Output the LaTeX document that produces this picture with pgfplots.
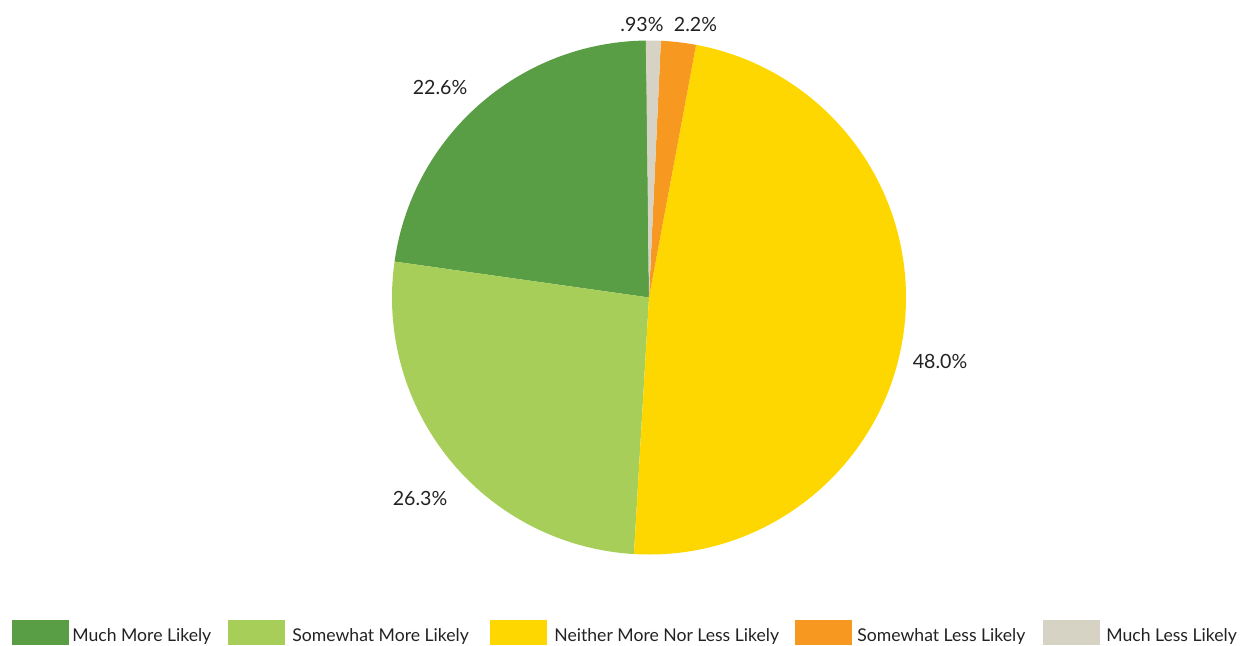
\documentclass[border=0pt]{standalone}
\usepackage{fontspec}
\setmainfont{Lato}
\usepackage{pgfplots}
\usepackage{pgfplotstable}
\pgfplotsset{compat=1.18}
\definecolor{cA}{RGB}{89,158,68}
\definecolor{cB}{RGB}{168,206,90}
\definecolor{cC}{RGB}{255,215,0}
\definecolor{cD}{RGB}{247,153,33}
\definecolor{cE}{RGB}{214,211,196}
\definecolor{txt}{RGB}{34,34,34}
\pgfplotstableread{
name value col
MuchMore 22.6 cA
SomewhatMore 26.3 cB
Neither 48.0 cC
SomewhatLess 2.2 cD
MuchLess 0.93 cE
}\piedata
\begin{document}
\begin{tikzpicture}
\begin{axis}[scale only axis, width=620.5pt, height=322.5pt,
  xmin=0, xmax=1241, ymin=0, ymax=645, hide axis, clip=false]
\path (axis cs:0,0) rectangle (axis cs:1241,645);
\xdef\curangle{90.6}
\pgfplotsinvokeforeach{0,...,4}{
  \pgfplotstablegetelem{#1}{value}\of\piedata \let\pval\pgfplotsretval
  \pgfplotstablegetelem{#1}{col}\of\piedata \let\pcol\pgfplotsretval
  \pgfmathsetmacro{\pend}{\curangle+3.6*\pval}
  \edef\temp{\noexpand\fill[\pcol] (axis cs:649,347.5) -- ++(\curangle:128.5pt) arc[start angle=\curangle, end angle=\pend, radius=128.5pt] -- cycle;}
  \temp
  \xdef\curangle{\pend}
}
\begin{scope}[every node/.style={font=\fontsize{9.8pt}{11pt}\selectfont, text=txt, inner sep=0pt, anchor=base}]
\node at (axis cs:440,551) {22.6\%};
\node at (axis cs:420,140) {26.3\%};
\node at (axis cs:940,277) {48.0\%};
\node at (axis cs:642,614) {.93\%};
\node at (axis cs:695.5,614) {2.2\%};
\end{scope}
\begin{scope}[every node/.style={font=\fontsize{8.8pt}{10pt}\selectfont, text=txt, inner sep=0pt, anchor=base west}]
\fill[cA] (axis cs:12,0) rectangle (axis cs:69,25);
\node at (axis cs:72,4) {Much More Likely};
\fill[cB] (axis cs:228,0) rectangle (axis cs:285,25);
\node at (axis cs:292,4) {Somewhat More Likely};
\fill[cC] (axis cs:490,0) rectangle (axis cs:547,25);
\node at (axis cs:554,4) {Neither More Nor Less Likely};
\fill[cD] (axis cs:795,0) rectangle (axis cs:852,25);
\node at (axis cs:857,4) {Somewhat Less Likely};
\fill[cE] (axis cs:1043,0) rectangle (axis cs:1100,25);
\node at (axis cs:1106,4) {Much Less Likely};
\end{scope}
\end{axis}
\end{tikzpicture}
\end{document}
